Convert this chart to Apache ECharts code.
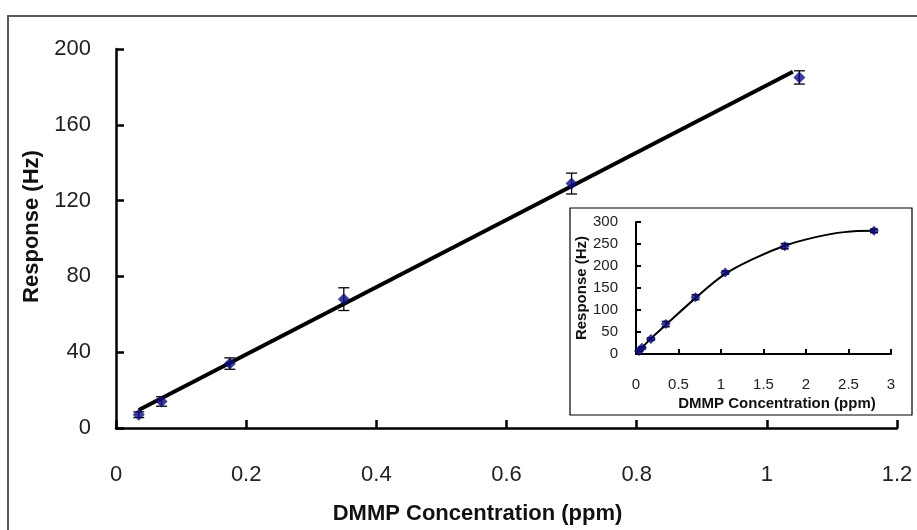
<!DOCTYPE html>
<html>
<head>
<meta charset="utf-8">
<script src="https://cdn.jsdelivr.net/npm/echarts@6/dist/echarts.min.js"></script>
<style>
  html, body { margin: 0; padding: 0; background: #fff; }
  #chart { width: 917px; height: 530px; }
</style>
</head>
<body>
<div id="chart"></div>
<script>
// main plot: DMMP 0 - 1.05 ppm
const conc = [0.035, 0.07, 0.175, 0.35, 0.7, 1.05]
const resp = [7, 14, 34, 68, 129, 185]
const respErr = [1.5, 2.5, 3, 6, 5.5, 3.5]
// linear fit, endpoints
const fitX = [0.035, 1.04]
const fitY = [9.5, 188]

// inset: full range up to 2.8 ppm
const insetConc = [0.035, 0.07, 0.175, 0.35, 0.7, 1.05, 1.75, 2.8]
const insetResp = [7, 14, 34, 68, 129, 185, 245, 280]
const insetErr = [1.5, 2.5, 3, 6, 5.5, 3.5, 6, 4]
// polynomial fit curve
const curveX = [0, 0.175, 0.35, 0.7, 1.05, 1.4, 1.75, 2.1, 2.45, 2.8]
const curveY = [0, 35, 66, 127, 182, 218, 246, 265, 277, 280]

const font = 'Liberation Sans'
const pointColor = '#0c0c80'

function pairs(xs, ys) {
  return xs.map((x, i) => [x, ys[i]])
}

function errBars(capW, lw) {
  return function (params, api) {
    const x = api.value(0)
    const y = api.value(1)
    const e = api.value(2)
    const top = api.coord([x, y + e])
    const bot = api.coord([x, y - e])
    const style = { stroke: '#000', lineWidth: lw }
    return {
      type: 'group',
      children: [
        { type: 'line', shape: { x1: top[0], y1: top[1], x2: bot[0], y2: bot[1] }, style },
        { type: 'line', shape: { x1: top[0] - capW / 2, y1: top[1], x2: top[0] + capW / 2, y2: top[1] }, style },
        { type: 'line', shape: { x1: bot[0] - capW / 2, y1: bot[1], x2: bot[0] + capW / 2, y2: bot[1] }, style }
      ]
    }
  }
}

const chart = echarts.init(document.getElementById('chart'))

const axisLine = { show: true, lineStyle: { color: '#000', width: 2.5 } }

chart.setOption({
  animation: false,
  backgroundColor: '#fff',
  textStyle: { fontFamily: font },
  grid: [
    { left: 116, top: 49, width: 781, height: 384 },
    { left: 636, top: 222, width: 255, height: 132 }
  ],
  graphic: [
    // outer frame (cut off at right and bottom)
    { type: 'rect', shape: { x: 8, y: 16, width: 1000, height: 1000 },
      style: { fill: 'none', stroke: '#5a5a5a', lineWidth: 2 }, silent: true, z: -1 },
    // inset box
    { type: 'rect', shape: { x: 570, y: 208, width: 342, height: 207 },
      style: { fill: '#fff', stroke: '#000', lineWidth: 1.2 }, silent: true, z: -1 }
  ],
  xAxis: [
    {
      gridIndex: 0, type: 'value', min: 0, max: 1.2, interval: 0.2,
      axisLine: axisLine,
      axisTick: { show: true, inside: true, length: 8, lineStyle: { color: '#000', width: 2.5 } },
      axisLabel: { margin: 36, fontSize: 22, color: '#222', fontFamily: font },
      splitLine: { show: false },
      name: 'DMMP Concentration (ppm)', nameLocation: 'middle', nameGap: 75,
      nameTextStyle: { fontSize: 22, fontWeight: 'bold', color: '#111', fontFamily: font, padding: [0, 58, 0, 0] }
    },
    {
      gridIndex: 1, type: 'value', min: 0, max: 3, interval: 0.5,
      axisLine: { show: true, lineStyle: { color: '#000', width: 2 } },
      axisTick: { show: true, inside: true, length: 5, lineStyle: { color: '#000', width: 2 } },
      axisLabel: { margin: 23, fontSize: 15, color: '#222', fontFamily: font },
      splitLine: { show: false },
      name: 'DMMP Concentration (ppm)', nameLocation: 'middle', nameGap: 42,
      nameTextStyle: { fontSize: 15, fontWeight: 'bold', color: '#111', fontFamily: font, padding: [0, 0, 0, 27] }
    }
  ],
  yAxis: [
    {
      gridIndex: 0, type: 'value', min: 0, max: 200, interval: 40,
      axisLine: axisLine,
      axisTick: { show: true, inside: true, length: 8, lineStyle: { color: '#000', width: 2.5 } },
      axisLabel: { margin: 25, fontSize: 22, color: '#222', fontFamily: font },
      splitLine: { show: false },
      name: 'Response (Hz)', nameLocation: 'middle', nameGap: 66,
      nameTextStyle: { fontSize: 22, fontWeight: 'bold', color: '#111', fontFamily: font, padding: [0, 0, 0, 24] }
    },
    {
      gridIndex: 1, type: 'value', min: 0, max: 300, interval: 50,
      axisLine: { show: true, lineStyle: { color: '#000', width: 2 } },
      axisTick: { show: true, inside: true, length: 5, lineStyle: { color: '#000', width: 2 } },
      axisLabel: { margin: 18, fontSize: 15, color: '#222', fontFamily: font },
      splitLine: { show: false },
      name: 'Response (Hz)', nameLocation: 'middle', nameGap: 43,
      nameTextStyle: { fontSize: 15, fontWeight: 'bold', color: '#111', fontFamily: font }
    }
  ],
  series: [
    {
      name: 'fit', type: 'line', xAxisIndex: 0, yAxisIndex: 0,
      data: pairs(fitX, fitY), symbol: 'none',
      lineStyle: { color: '#000', width: 4 }, z: 2
    },
    {
      name: 'error', type: 'custom', xAxisIndex: 0, yAxisIndex: 0,
      data: conc.map((x, i) => [x, resp[i], respErr[i]]),
      renderItem: errBars(11, 1.3), z: 3
    },
    {
      name: 'response', type: 'scatter', xAxisIndex: 0, yAxisIndex: 0,
      data: pairs(conc, resp), symbol: 'diamond', symbolSize: 12,
      itemStyle: { color: pointColor }, z: 4
    },
    {
      name: 'inset fit', type: 'line', xAxisIndex: 1, yAxisIndex: 1,
      data: pairs(curveX, curveY), symbol: 'none', smooth: 0.4,
      lineStyle: { color: '#000', width: 2 }, z: 2
    },
    {
      name: 'inset error', type: 'custom', xAxisIndex: 1, yAxisIndex: 1,
      data: insetConc.map((x, i) => [x, insetResp[i], insetErr[i]]),
      renderItem: errBars(8, 1.5), z: 3
    },
    {
      name: 'inset response', type: 'scatter', xAxisIndex: 1, yAxisIndex: 1,
      data: pairs(insetConc, insetResp), symbol: 'diamond', symbolSize: 10,
      itemStyle: { color: pointColor }, z: 4
    }
  ]
})
</script>
</body>
</html>
